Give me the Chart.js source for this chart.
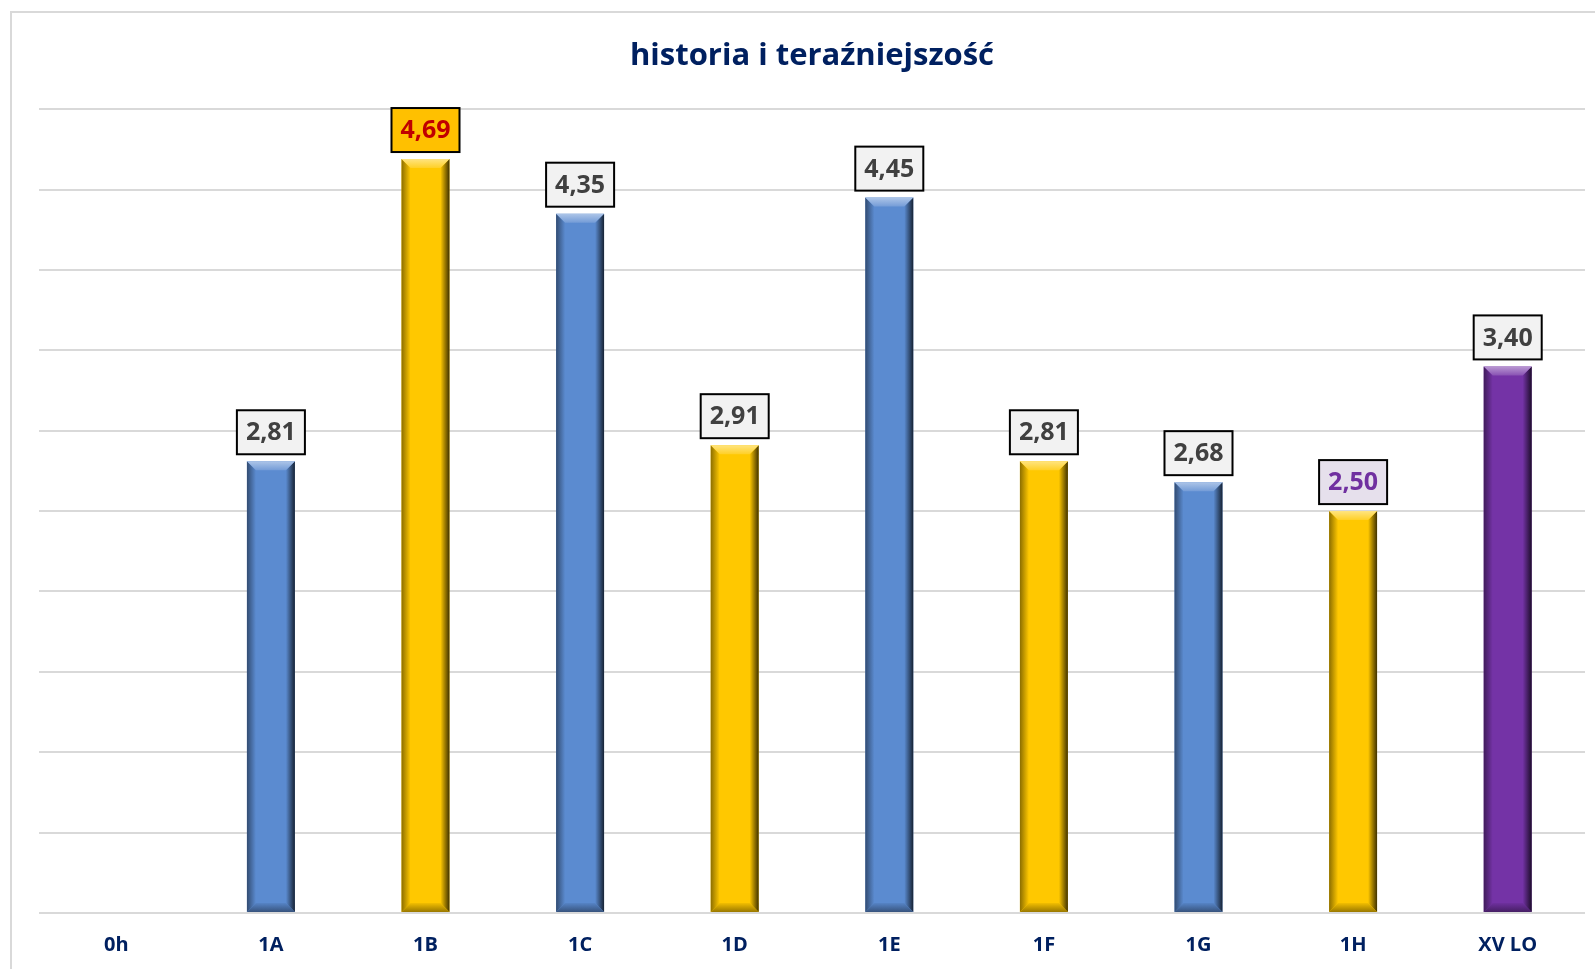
<!DOCTYPE html>
<html>
<head>
<meta charset="utf-8">
<title>historia i teraźniejszość</title>
<script src="https://cdn.jsdelivr.net/npm/chart.js@4"></script>
<style>
html, body { margin: 0; padding: 0; background: #fff; overflow: hidden; }
#frame { position: absolute; left: 10px; top: 11px; width: 1600px; height: 1000px; border: 2px solid #d9d9d9; box-sizing: border-box; }
#wrap { position: absolute; left: 0; top: 0; width: 1595px; height: 969px; }
</style>
</head>
<body>
<div id="frame"></div>
<div id="wrap"><canvas id="myChart"></canvas></div>
<script>
const categories = ['0h', '1A', '1B', '1C', '1D', '1E', '1F', '1G', '1H', 'XV LO'];
const values = [null, 2.81, 4.69, 4.35, 2.91, 4.45, 2.81, 2.68, 2.50, 3.40];
const barColors = ['#5b8bd0', '#5b8bd0', '#ffc800', '#5b8bd0', '#ffc800', '#5b8bd0', '#ffc800', '#5b8bd0', '#ffc800', '#7433a6'];
const labelFill = ['#f2f2f2', '#f2f2f2', '#ffc000', '#f2f2f2', '#f2f2f2', '#f2f2f2', '#f2f2f2', '#f2f2f2', '#e6e0ec', '#f2f2f2'];
const labelText = ['#404040', '#404040', '#c00000', '#404040', '#404040', '#404040', '#404040', '#404040', '#7030a0', '#404040'];
const yMax = 5;
const yStep = 0.5;

// mix a hex colour with white (f>0) or black (f<0)
function shade(hex, f) {
    let r = parseInt(hex.substr(1, 2), 16), g = parseInt(hex.substr(3, 2), 16), b = parseInt(hex.substr(5, 2), 16);
    let t = f < 0 ? 0 : 255, p = Math.abs(f);
    r = Math.round(r + (t - r) * p); g = Math.round(g + (t - g) * p); b = Math.round(b + (t - b) * p);
    return 'rgb(' + r + ',' + g + ',' + b + ')';
}

const bevelPlugin = {
    id: 'bevel',
    afterDatasetsDraw(chart) {
        const ctx = chart.ctx;
        const meta = chart.getDatasetMeta(0);
        meta.data.forEach((bar, i) => {
            if (values[i] == null) return;
            const c = barColors[i];
            const l = bar.x - bar.width / 2, r = bar.x + bar.width / 2;
            const t = bar.y, b = bar.base;
            const e = 9;
            ctx.save();
            // left edge
            let g = ctx.createLinearGradient(l, 0, l + e, 0);
            g.addColorStop(0, shade(c, -0.45));
            g.addColorStop(1, c);
            ctx.fillStyle = g;
            ctx.beginPath();
            ctx.moveTo(l, t); ctx.lineTo(l + e, t + e); ctx.lineTo(l + e, b - e); ctx.lineTo(l, b);
            ctx.closePath(); ctx.fill();
            // right edge
            g = ctx.createLinearGradient(r - e, 0, r, 0);
            g.addColorStop(0, c);
            g.addColorStop(1, shade(c, -0.75));
            ctx.fillStyle = g;
            ctx.beginPath();
            ctx.moveTo(r, t); ctx.lineTo(r - e, t + e); ctx.lineTo(r - e, b - e); ctx.lineTo(r, b);
            ctx.closePath(); ctx.fill();
            // top bevel
            g = ctx.createLinearGradient(0, t, 0, t + e);
            g.addColorStop(0, shade(c, 0.5));
            g.addColorStop(1, shade(c, 0.15));
            ctx.fillStyle = g;
            ctx.beginPath();
            ctx.moveTo(l, t); ctx.lineTo(r, t); ctx.lineTo(r - e, t + e); ctx.lineTo(l + e, t + e);
            ctx.closePath(); ctx.fill();
            // bottom bevel
            g = ctx.createLinearGradient(0, b - e, 0, b);
            g.addColorStop(0, shade(c, -0.05));
            g.addColorStop(1, shade(c, -0.4));
            ctx.fillStyle = g;
            ctx.beginPath();
            ctx.moveTo(l, b); ctx.lineTo(r, b); ctx.lineTo(r - e, b - e); ctx.lineTo(l + e, b - e);
            ctx.closePath(); ctx.fill();
            ctx.restore();
        });
    }
};

const labelPlugin = {
    id: 'valueLabels',
    afterDatasetsDraw(chart) {
        const ctx = chart.ctx;
        const meta = chart.getDatasetMeta(0);
        ctx.save();
        ctx.font = 'bold 25px "Open Sans"';
        ctx.textAlign = 'center';
        ctx.textBaseline = 'middle';
        meta.data.forEach((bar, i) => {
            if (values[i] == null) return;
            const txt = values[i].toFixed(2).replace('.', ',');
            const w = ctx.measureText(txt).width + 18;
            const h = 44;
            const x = bar.x - w / 2, y = bar.y - 7 - h;
            ctx.fillStyle = labelFill[i];
            ctx.fillRect(x, y, w, h);
            ctx.lineWidth = 2;
            ctx.strokeStyle = '#000';
            ctx.strokeRect(x, y, w, h);
            ctx.fillStyle = labelText[i];
            ctx.fillText(txt, bar.x, y + h / 2 + 1);
        });
        ctx.restore();
    }
};

const ctx = document.getElementById('myChart').getContext('2d');
new Chart(ctx, {
    type: 'bar',
    data: {
        labels: categories,
        datasets: [{
            data: values,
            backgroundColor: barColors,
            borderWidth: 0,
            barPercentage: 0.31,
            categoryPercentage: 1
        }]
    },
    options: {
        responsive: true,
        maintainAspectRatio: false,
        animation: false,
        events: [],
        layout: { padding: { left: 39, right: 10, top: 0, bottom: 0 } },
        plugins: {
            legend: { display: false },
            tooltip: { enabled: false },
            title: {
                display: true,
                text: 'historia i teraźniejszość',
                color: '#002060',
                font: { family: 'Open Sans', size: 31, weight: 'bold' },
                padding: { top: 38, bottom: 34 }
            }
        },
        scales: {
            x: {
                grid: { display: false, drawTicks: false },
                border: { display: false },
                ticks: {
                    color: '#002060',
                    font: { family: 'Open Sans', size: 20, weight: 'bold' },
                    padding: 20
                },
                afterFit(scale) { scale.height = 56; }
            },
            y: {
                min: 0,
                max: yMax,
                ticks: { display: false, stepSize: yStep },
                grid: { color: '#d9d9d9', lineWidth: 2, drawTicks: false },
                border: { display: false }
            }
        }
    },
    plugins: [bevelPlugin, labelPlugin]
});
</script>
</body>
</html>
